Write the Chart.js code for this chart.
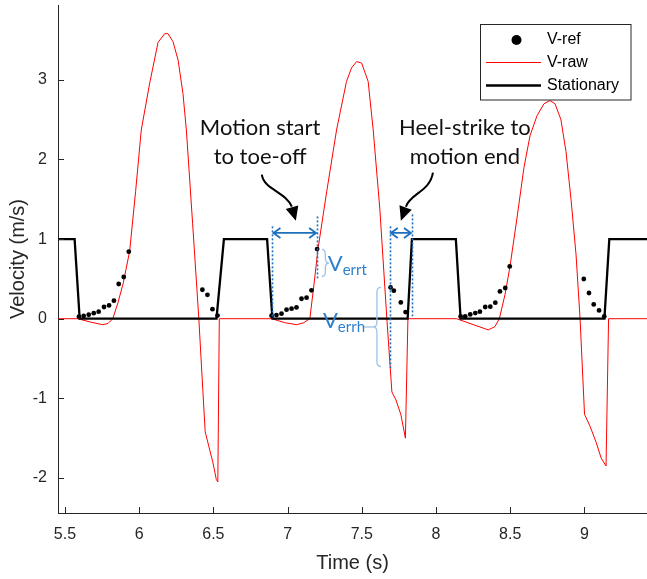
<!DOCTYPE html>
<html>
<head>
<meta charset="utf-8">
<script src="https://cdn.jsdelivr.net/npm/chart.js"></script>
<style>
  html, body { margin: 0; padding: 0; background: #fff; overflow: hidden; }
</style>
</head>
<body>
<canvas id="chart" width="651" height="579"></canvas>
<script>
  // reference velocity samples (black dots)
  const refTime = [
    5.594, 5.626, 5.660, 5.694, 5.727, 5.763, 5.797, 5.830, 5.862, 5.896, 5.930,
    6.426, 6.460, 6.494, 6.528,
    6.892, 6.925, 6.959, 6.993, 7.027, 7.060, 7.094, 7.128, 7.161, 7.199,
    7.694, 7.716, 7.763, 7.795,
    8.166, 8.197, 8.231, 8.265, 8.296, 8.332, 8.366, 8.400, 8.431, 8.467, 8.497,
    8.996, 9.031, 9.063, 9.099, 9.134
  ];
  const refVel = [
    0.025, 0.034, 0.050, 0.070, 0.088, 0.147, 0.167, 0.226, 0.436, 0.524, 0.842,
    0.364, 0.300, 0.120, 0.040,
    0.038, 0.046, 0.063, 0.113, 0.126, 0.142, 0.251, 0.264, 0.356, 0.875,
    0.393, 0.352, 0.205, 0.084,
    0.029, 0.029, 0.054, 0.071, 0.088, 0.147, 0.151, 0.201, 0.343, 0.386, 0.657,
    0.499, 0.323, 0.180, 0.104, 0.029
  ];

  // raw integrated velocity (red)
  const rawTime = [
    5.453, 5.586, 5.667, 5.754, 5.790, 5.822, 5.857, 5.893, 5.936, 5.976, 6.014,
    6.071, 6.127, 6.172, 6.194, 6.228, 6.262, 6.295, 6.318, 6.360, 6.402, 6.429,
    6.445, 6.469, 6.496, 6.520, 6.530, 6.540,
    6.894, 6.981, 7.062, 7.109, 7.150, 7.176, 7.206, 7.264, 7.330, 7.397, 7.431,
    7.465, 7.499, 7.543, 7.577, 7.622, 7.669, 7.703, 7.730, 7.763, 7.794, 7.811,
    8.139, 8.229, 8.352, 8.397, 8.427, 8.465, 8.499, 8.544, 8.593, 8.634, 8.681,
    8.728, 8.768, 8.802, 8.842, 8.876, 8.910, 8.944, 8.971, 9.001, 9.038, 9.079,
    9.113, 9.146, 9.163, 9.430
  ];
  const rawVel = [
    0, 0, -0.04, -0.075, -0.06, 0, 0.2, 0.45, 0.85, 1.6, 2.37,
    2.96, 3.47, 3.58, 3.58, 3.48, 3.25, 2.83, 2.37, 1.2, 0, -0.9,
    -1.42, -1.6, -1.8, -2.02, -2.05, 0,
    0, -0.05, -0.075, -0.05, 0, 0.4, 0.89, 1.6, 2.37, 2.98, 3.15,
    3.23, 3.21, 2.98, 2.37, 1.37, 0, -0.92, -1.02, -1.2, -1.5, 0,
    0, -0.06, -0.14, -0.1, 0, 0.3, 0.66, 1.24, 1.9, 2.3, 2.55,
    2.7, 2.74, 2.7, 2.5, 2.1, 1.5, 0.8, 0, -1.2, -1.35, -1.55,
    -1.75, -1.85, 0, 0
  ];

  // stationary flag
  const statTime = [5.453, 5.565, 5.599, 6.521, 6.571, 6.862, 6.898, 7.809, 7.838, 8.134, 8.166, 9.135, 9.168, 9.430];
  const statVel  = [1, 1, 0, 0, 1, 1, 0, 0, 1, 1, 0, 0, 1, 1];

  const xTicks = [5.5, 6, 6.5, 7, 7.5, 8, 8.5, 9];
  const yTicks = [-2, -1, 0, 1, 2, 3];

  // event times for the second stride
  const motionStart = 6.898, toeOff = 7.199;
  const heelStrike = 7.689, motionEnd = 7.838;

  const pts = (t, v) => t.map((x, i) => ({ x: x, y: v[i] }));

  const blue = '#1f6fbf';
  const lightBlue = '#9cc2e8';
  const textBlue = '#2f80cc';

  function arrowHead(ctx, from, tip, len, half) {
    const dx = tip.x - from.x, dy = tip.y - from.y;
    const d = Math.hypot(dx, dy);
    const ux = dx / d, uy = dy / d;
    const bx = tip.x - ux * len, by = tip.y - uy * len;
    ctx.beginPath();
    ctx.moveTo(tip.x, tip.y);
    ctx.lineTo(bx - uy * half, by + ux * half);
    ctx.lineTo(bx + uy * half, by - ux * half);
    ctx.closePath();
    ctx.fill();
  }

  function brace(ctx, x, y1, y2, dir, w) {
    const ym = (y1 + y2) / 2, r = 5, xm = x + dir * w / 2, xt = x + dir * w;
    ctx.beginPath();
    ctx.moveTo(x, y1);
    ctx.quadraticCurveTo(xm, y1, xm, y1 + r);
    ctx.lineTo(xm, ym - r);
    ctx.quadraticCurveTo(xm, ym, xt, ym);
    ctx.quadraticCurveTo(xm, ym, xm, ym + r);
    ctx.lineTo(xm, y2 - r);
    ctx.quadraticCurveTo(xm, y2, x, y2);
    ctx.stroke();
  }

  function subText(ctx, main, sub, x, y) {
    ctx.textAlign = 'left';
    ctx.textBaseline = 'alphabetic';
    ctx.font = '22px Lato';
    ctx.fillText(main, x, y);
    const w = ctx.measureText(main).width;
    ctx.font = '15px Lato';
    ctx.fillText(sub, x + w, y + 4);
  }

  const notes = {
    id: 'notes',
    afterDatasetsDraw(chart) {
      const ctx = chart.ctx;
      const a = chart.chartArea;
      const X = t => chart.scales.x.getPixelForValue(t);
      const Y = v => chart.scales.y.getPixelForValue(v);
      const P = (t, v) => ({ x: X(t), y: Y(v) });
      ctx.save();

      // tick marks point into the plot
      ctx.strokeStyle = '#262626';
      ctx.lineWidth = 1;
      xTicks.forEach(t => {
        const x = Math.round(X(t)) + 0.5;
        ctx.beginPath(); ctx.moveTo(x, a.bottom); ctx.lineTo(x, a.bottom - 6); ctx.stroke();
      });
      yTicks.forEach(v => {
        const y = Math.round(Y(v)) + 0.5;
        ctx.beginPath(); ctx.moveTo(a.left, y); ctx.lineTo(a.left + 6, y); ctx.stroke();
      });

      // captions
      ctx.fillStyle = '#111';
      ctx.font = '22px Lato';
      ctx.textAlign = 'center';
      ctx.textBaseline = 'alphabetic';
      ctx.fillText('Motion start', X(6.815), Y(2.31));
      ctx.fillText('to toe-off', X(6.815), Y(1.947));
      ctx.fillText('Heel-strike to', X(8.195), Y(2.31));
      ctx.fillText('motion end', X(8.195), Y(1.947));

      // curved pointers
      ctx.strokeStyle = '#000';
      ctx.fillStyle = '#000';
      ctx.lineWidth = 2;
      [
        [P(6.8264, 1.809), P(6.8399, 1.621), P(6.9883, 1.595), P(7.0287, 1.407), P(7.0557, 1.231)],
        [P(7.9795, 1.834), P(7.9593, 1.595), P(7.8244, 1.570), P(7.7974, 1.407), P(7.7637, 1.231)]
      ].forEach(([s, c1, c2, e, tip]) => {
        ctx.beginPath();
        ctx.moveTo(s.x, s.y);
        ctx.bezierCurveTo(c1.x, c1.y, c2.x, c2.y, e.x, e.y);
        ctx.stroke();
        arrowHead(ctx, e, tip, 14, 6.5);
      });

      // dotted event markers
      ctx.strokeStyle = blue;
      ctx.lineWidth = 1.6;
      ctx.setLineDash([2, 2]);
      [[motionStart, 1.16, 0], [toeOff, 1.285, 0.49], [heelStrike, 1.16, -0.62], [motionEnd, 1.31, 0.03]]
        .forEach(([t, v1, v2]) => {
          const x = Math.round(X(t)) + 0.5;
          ctx.beginPath(); ctx.moveTo(x, Y(v1)); ctx.lineTo(x, Y(v2)); ctx.stroke();
        });
      ctx.setLineDash([]);

      // interval arrows
      ctx.lineWidth = 1.8;
      [[motionStart, toeOff], [heelStrike, motionEnd]].forEach(([t1, t2]) => {
        const x1 = X(t1) + 1, x2 = X(t2) - 1, y = Y(1.077);
        ctx.beginPath();
        ctx.moveTo(x1, y); ctx.lineTo(x2, y);
        ctx.moveTo(x1 + 7, y - 5); ctx.lineTo(x1, y); ctx.lineTo(x1 + 7, y + 5);
        ctx.moveTo(x2 - 7, y - 5); ctx.lineTo(x2, y); ctx.lineTo(x2 - 7, y + 5);
        ctx.stroke();
      });

      // error braces
      ctx.strokeStyle = lightBlue;
      ctx.lineWidth = 1.3;
      brace(ctx, X(7.231), Y(0.87), Y(0.53), 1, 7);
      brace(ctx, X(7.629), Y(0.393), Y(-0.60), -1, 8);
      const ymid = (Y(0.393) + Y(-0.60)) / 2;
      ctx.beginPath(); ctx.moveTo(X(7.629) - 8, ymid); ctx.lineTo(X(7.514), ymid); ctx.stroke();

      ctx.fillStyle = textBlue;
      subText(ctx, 'V', 'errt', X(7.271), Y(0.594));
      subText(ctx, 'V', 'errh', X(7.238), Y(-0.12));

      ctx.restore();
    }
  };

  const legendBox = {
    id: 'legendBox',
    afterDraw(chart) {
      const ctx = chart.ctx;
      ctx.save();
      ctx.fillStyle = '#fff';
      ctx.fillRect(480.5, 24.5, 150.5, 75.5);
      ctx.strokeStyle = '#262626';
      ctx.lineWidth = 1;
      ctx.strokeRect(480.5, 24.5, 150.5, 75.5);

      ctx.fillStyle = '#000';
      ctx.beginPath(); ctx.arc(516.5, 40, 5, 0, Math.PI * 2); ctx.fill();
      ctx.strokeStyle = '#ff0000';
      ctx.lineWidth = 1;
      ctx.beginPath(); ctx.moveTo(486, 62.5); ctx.lineTo(541, 62.5); ctx.stroke();
      ctx.strokeStyle = '#000';
      ctx.lineWidth = 2.3;
      ctx.beginPath(); ctx.moveTo(486, 85.5); ctx.lineTo(541, 85.5); ctx.stroke();

      ctx.font = '16px "Liberation Sans", Arial, sans-serif';
      ctx.textAlign = 'left';
      ctx.textBaseline = 'middle';
      ctx.fillText('V-ref', 547, 40);
      ctx.fillText('V-raw', 547, 63);
      ctx.fillText('Stationary', 547, 86);
      ctx.restore();
    }
  };

  const axisFont = { family: '"Liberation Sans", Arial, sans-serif', size: 16 };
  const titleFont = { family: '"Liberation Sans", Arial, sans-serif', size: 20 };

  new Chart(document.getElementById('chart'), {
    type: 'scatter',
    data: {
      datasets: [
        {
          label: 'V-ref',
          data: pts(refTime, refVel),
          pointRadius: 2.4,
          pointBackgroundColor: '#000',
          pointBorderWidth: 0,
          showLine: false,
          order: 0
        },
        {
          label: 'V-raw',
          data: pts(rawTime, rawVel),
          borderColor: '#ff0000',
          borderWidth: 1,
          pointRadius: 0,
          showLine: true,
          tension: 0,
          order: 2
        },
        {
          label: 'Stationary',
          data: pts(statTime, statVel),
          borderColor: '#000',
          borderWidth: 2.3,
          pointRadius: 0,
          showLine: true,
          tension: 0,
          order: 1
        }
      ]
    },
    options: {
      responsive: false,
      animation: false,
      layout: { padding: { top: 5, right: 0, left: 0, bottom: 0 } },
      plugins: {
        legend: { display: false },
        tooltip: { enabled: false }
      },
      scales: {
        x: {
          type: 'linear',
          min: 5.453,
          max: 9.422,
          afterBuildTicks: s => { s.ticks = xTicks.map(v => ({ value: v })); },
          afterFit: s => { s.height = 66; s.paddingLeft = 0; s.paddingRight = 0; },
          grid: { display: false, drawTicks: false },
          border: { display: true, color: '#262626', width: 1 },
          ticks: { color: '#262626', font: axisFont, padding: 12, maxRotation: 0, callback: v => String(v) },
          title: { display: true, text: 'Time (s)', color: '#262626', font: titleFont, padding: { top: 0, bottom: 4 } }
        },
        y: {
          type: 'linear',
          min: -2.44,
          max: 3.94,
          afterBuildTicks: s => { s.ticks = yTicks.map(v => ({ value: v })); },
          afterFit: s => { s.width = 58; s.paddingTop = 0; s.paddingBottom = 0; },
          grid: { display: false, drawTicks: false },
          border: { display: true, color: '#262626', width: 1 },
          ticks: { color: '#262626', font: axisFont, padding: 11, callback: v => String(v) },
          title: { display: true, text: 'Velocity (m/s)', color: '#262626', font: titleFont, padding: { top: 6, bottom: 0 } }
        }
      }
    },
    plugins: [notes, legendBox]
  });
</script>
</body>
</html>
